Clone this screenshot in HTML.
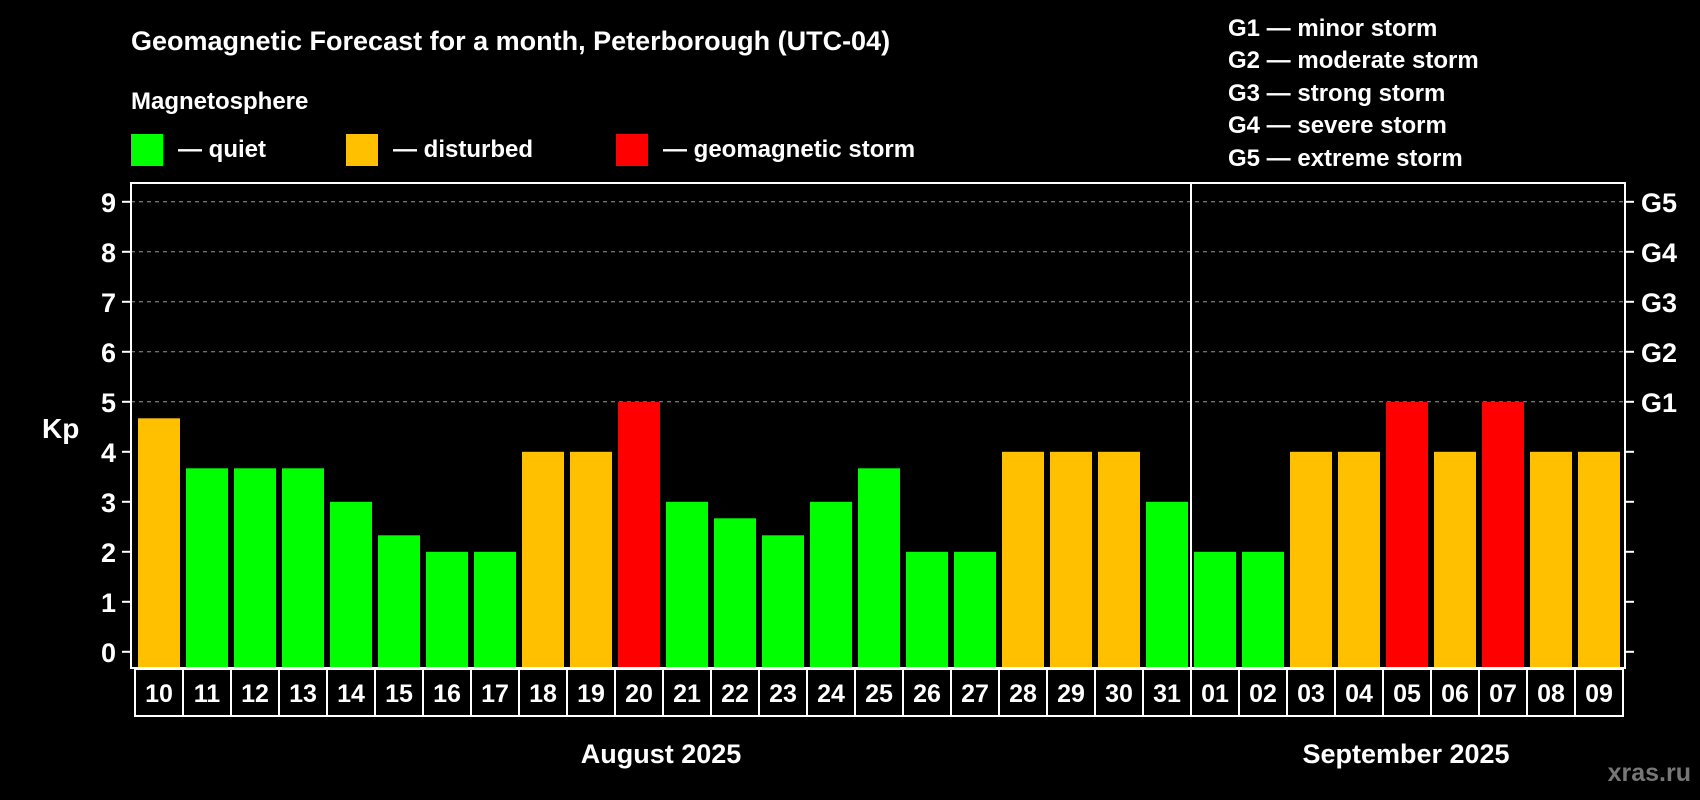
<!DOCTYPE html>
<html><head><meta charset="utf-8"><style>
html,body{margin:0;padding:0;background:#000;}
svg{display:block;font-family:"Liberation Sans",Arial,sans-serif;font-weight:bold;}
</style></head><body>
<svg id="chart" width="1700" height="800" viewBox="0 0 1700 800">
<rect x="0" y="0" width="1700" height="800" fill="#000"/>
<text x="131" y="50" fill="#fff" font-size="27">Geomagnetic Forecast for a month, Peterborough (UTC-04)</text>
<text x="131" y="109" fill="#fff" font-size="24">Magnetosphere</text>
<g>
<rect x="131" y="134" width="32" height="32" fill="#00ff00"/>
<text x="178" y="157" fill="#fff" font-size="24">— quiet</text></g>
<g>
<rect x="346" y="134" width="32" height="32" fill="#ffc000"/>
<text x="393" y="157" fill="#fff" font-size="24">— disturbed</text></g>
<g>
<rect x="616" y="134" width="32" height="32" fill="#ff0000"/>
<text x="663" y="157" fill="#fff" font-size="24">— geomagnetic storm</text></g>
<g font-size="24" fill="#fff">
<text x="1228" y="36">G1 — minor storm</text>
<text x="1228" y="68">G2 — moderate storm</text>
<text x="1228" y="101">G3 — strong storm</text>
<text x="1228" y="133">G4 — severe storm</text>
<text x="1228" y="166">G5 — extreme storm</text>
</g>
<text x="42" y="438" fill="#fff" font-size="28">Kp</text>
<g id="grid"></g>
<g id="bars"></g>
<g id="axes"></g>
<g id="dates"></g>
<text x="661" y="763" fill="#fff" font-size="27" text-anchor="middle">August 2025</text>
<text x="1406" y="763" fill="#fff" font-size="27" text-anchor="middle">September 2025</text>
<text x="1691" y="781" fill="#777" font-size="25" text-anchor="end">xras.ru</text>
</svg>
<script>
const days = ["10","11","12","13","14","15","16","17","18","19","20","21","22","23","24","25","26","27","28","29","30","31","01","02","03","04","05","06","07","08","09"];
const kpValues = [4.67,3.67,3.67,3.67,3,2.33,2,2,4,4,5,3,2.67,2.33,3,3.67,2,2,4,4,4,3,2,2,4,4,5,4,5,4,4];
const yTicks = [0,1,2,3,4,5,6,7,8,9];
const gLabels = ["G1","G2","G3","G4","G5"];
const gLevels = [5,6,7,8,9];
const monthBreakIndex = 22;

const NS = "http://www.w3.org/2000/svg";
const plotL = 131, plotR = 1625, plotT = 183, plotB = 668;
const y0 = 651.8, unit = 50;
const x0 = 138, pitch = 48, barW = 42;
function yScale(v){ return y0 - v*unit; }
function xScale(i){ return x0 + i*pitch; }
function mk(tag, attrs, parent){
  const e = document.createElementNS(NS, tag);
  for (const k in attrs) e.setAttribute(k, attrs[k]);
  parent.appendChild(e); return e;
}
const grid = document.getElementById('grid');
const bars = document.getElementById('bars');
const axes = document.getElementById('axes');
const dates = document.getElementById('dates');

yTicks.forEach(t => {
  const y = yScale(t);
  if (t >= 5) {
    const l = mk('line', {x1: plotL, x2: plotR, y1: y, y2: y, stroke: '#999', 'stroke-width': 1, 'stroke-dasharray': '4 4'}, grid);
    
    
  }
  const tk = mk('line', {x1: plotL - 9, x2: plotL, y1: y, y2: y, stroke: '#fff', 'stroke-width': 2}, axes);
  
  
  const tr = mk('line', {x1: plotR, x2: plotR + 9, y1: y, y2: y, stroke: '#fff', 'stroke-width': 2}, axes);
  
  
  const lb = mk('text', {x: 116, y: y + 10, fill: '#fff', 'font-size': 27, 'text-anchor': 'end'}, axes);
  lb.textContent = t;
  
  
});
gLabels.forEach((g, i) => {
  const t = mk('text', {x: 1641, y: yScale(gLevels[i]) + 10, fill: '#fff', 'font-size': 27}, axes);
  t.textContent = g;
  
  
});

kpValues.forEach((v, i) => {
  const col = v >= 5 ? '#ff0000' : (v >= 4 ? '#ffc000' : '#00ff00');
  const r = mk('rect', {x: xScale(i), y: yScale(v), width: barW, height: plotB - yScale(v), fill: col}, bars);
  
  
});

const frame = mk('rect', {x: plotL, y: plotT, width: plotR - plotL, height: plotB - plotT, fill: 'none', stroke: '#fff', 'stroke-width': 2}, axes);


const sepX = xScale(monthBreakIndex) - 3;
const sep = mk('line', {x1: sepX, x2: sepX, y1: plotT, y2: 716, stroke: '#fff', 'stroke-width': 2}, axes);



days.forEach((d, i) => {
  const bx = xScale(i) - 3;
  const b = mk('rect', {x: bx, y: 669, width: pitch, height: 47, fill: 'none', stroke: '#fff', 'stroke-width': 2}, dates);
  
  
  const t = mk('text', {x: bx + pitch/2, y: 702, fill: '#fff', 'font-size': 25, 'text-anchor': 'middle'}, dates);
  t.textContent = d;
  
  
});
</script>
</body></html>
